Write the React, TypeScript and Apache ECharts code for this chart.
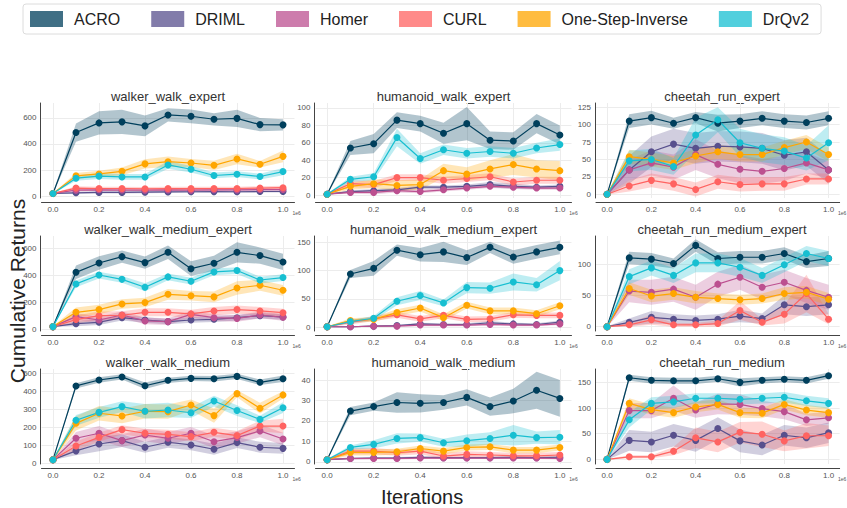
import { useEffect, useRef } from "react";
import * as echarts from "echarts";

// ---------- data ----------
const ITER = [0, 0.1, 0.2, 0.3, 0.4, 0.5, 0.6, 0.7, 0.8, 0.9, 1.0];
const METHODS = ["ACRO", "DRIML", "Homer", "CURL", "One-Step-Inverse", "DrQv2"];
const TASKS = [
  "walker_walk_expert", "humanoid_walk_expert", "cheetah_run_expert",
  "walker_walk_medium_expert", "humanoid_walk_medium_expert", "cheetah_run_medium_expert",
  "walker_walk_medium", "humanoid_walk_medium", "cheetah_run_medium",
];
const Y_MIN = [-15, -3.4, -5.3, -12.6, -6.5, -6.9, -4, -1.1, -9];
const Y_MAX = [715, 105.7, 131, 691, 161, 145, 524, 45.4, 176];
const Y_STEP = [200, 20, 25, 200, 50, 50, 100, 10, 50];
const X_TICK_LABEL = "1e6";

// order of rows: ACRO, DRIML, Homer, CURL, One-Step-Inverse, DrQv2
const walkerWalkExpertMean = [
  [20, 488, 562, 570, 539, 623, 613, 590, 597, 549, 547],
  [20, 25, 28, 28, 30, 32, 33, 34, 33, 35, 35],
  [20, 45, 48, 46, 45, 47, 45, 48, 47, 50, 50],
  [20, 61, 58, 58, 56, 58, 57, 58, 58, 61, 64],
  [20, 155, 170, 190, 247, 264, 254, 236, 285, 244, 305],
  [20, 137, 153, 147, 147, 239, 206, 158, 168, 150, 188],
];
const walkerWalkExpertSpread = [
  [3, 70, 89, 93, 79, 51, 53, 47, 66, 51, 43],
  [2, 8, 8, 8, 8, 8, 8, 8, 8, 8, 8],
  [2, 10, 10, 10, 10, 10, 10, 10, 10, 10, 10],
  [2, 15, 14, 14, 14, 14, 14, 14, 14, 14, 15],
  [2, 22, 25, 30, 35, 40, 30, 35, 40, 25, 45],
  [2, 20, 22, 22, 22, 30, 25, 22, 22, 22, 28],
];
const humanoidWalkExpertMean = [
  [1, 54, 59, 86, 82, 71, 82, 63, 62, 82, 69],
  [1, 4, 5, 6, 9, 9, 10, 12, 10, 9, 10],
  [1, 3, 3, 5, 4, 6, 8, 10, 9, 8, 8],
  [1, 13, 12, 20, 20, 17, 19, 21, 15, 17, 17],
  [1, 10, 13, 11, 12, 28, 24, 30, 35, 30, 28],
  [1, 18, 21, 66, 42, 52, 48, 50, 48, 54, 58],
];
const humanoidWalkExpertSpread = [
  [0.5, 8, 11, 9, 9, 12, 19, 10, 10, 11, 11],
  [0.5, 1.5, 2, 2, 2, 2, 2, 3, 3, 2, 2],
  [0.5, 1.5, 2, 2, 2, 2, 2, 2, 2, 2, 2],
  [0.5, 4, 4, 4, 4, 4, 4, 4, 4, 4, 4],
  [0.5, 4, 5, 6, 6, 8, 8, 10, 12, 10, 11],
  [0.5, 3, 4, 10, 6, 6, 6, 6, 6, 6, 7],
];
const cheetahRunExpertMean = [
  [0, 105, 110, 102, 110, 102, 105, 109, 105, 103, 109],
  [0, 35, 61, 72, 66, 69, 68, 66, 56, 61, 35],
  [0, 35, 45, 39, 57, 43, 36, 33, 37, 45, 35],
  [0, 12, 20, 15, 7, 18, 14, 15, 15, 22, 22],
  [0, 54, 50, 45, 55, 61, 57, 57, 67, 75, 57],
  [0, 48, 50, 40, 85, 107, 74, 66, 62, 52, 74],
];
const cheetahRunExpertSpread = [
  [0.5, 10, 10, 8, 8, 12, 10, 10, 10, 10, 10],
  [0.5, 20, 22, 22, 22, 22, 22, 22, 22, 20, 20],
  [0.5, 15, 18, 18, 22, 20, 20, 18, 18, 15, 12],
  [0.5, 8, 10, 10, 10, 10, 10, 10, 10, 8, 8],
  [0.5, 10, 10, 10, 10, 10, 10, 10, 10, 10, 10],
  [0.5, 15, 15, 12, 25, 18, 20, 20, 20, 18, 25],
];
const walkerWalkMediumExpertMean = [
  [20, 422, 491, 538, 494, 570, 449, 489, 570, 546, 499],
  [20, 42, 52, 86, 69, 57, 69, 74, 86, 101, 91],
  [20, 94, 69, 106, 62, 57, 111, 86, 81, 106, 89],
  [20, 72, 101, 104, 126, 126, 114, 136, 146, 136, 123],
  [20, 126, 146, 188, 198, 259, 249, 240, 306, 326, 289],
  [20, 336, 402, 370, 311, 388, 356, 425, 435, 365, 383],
];
const walkerWalkMediumExpertSpread = [
  [3, 50, 50, 45, 45, 50, 55, 55, 75, 60, 60],
  [2, 20, 20, 20, 20, 20, 20, 20, 20, 20, 20],
  [2, 25, 25, 25, 25, 25, 25, 25, 25, 25, 25],
  [2, 30, 30, 30, 30, 30, 30, 30, 30, 30, 30],
  [2, 35, 35, 35, 35, 40, 35, 40, 50, 40, 40],
  [2, 25, 25, 25, 30, 25, 25, 25, 25, 25, 25],
];
const humanoidWalkMediumExpertMean = [
  [1, 94, 104, 136, 128, 133, 123, 141, 124, 133, 141],
  [1, 1, 2, 3, 6, 5, 5, 8, 6, 5, 9],
  [1, 1, 2, 2, 4, 4, 4, 5, 4, 4, 6],
  [1, 9, 15, 22, 15, 21, 14, 15, 22, 21, 21],
  [1, 12, 14, 26, 34, 17, 39, 29, 29, 24, 38],
  [1, 10, 16, 46, 56, 43, 70, 69, 80, 75, 100],
];
const humanoidWalkMediumExpertSpread = [
  [0.5, 7, 13, 10, 12, 18, 13, 10, 12, 12, 12],
  [0.5, 1, 1, 1, 2, 2, 2, 3, 2, 2, 3],
  [0.5, 1, 1, 1, 2, 2, 2, 2, 2, 2, 2],
  [0.5, 4, 4, 5, 5, 5, 5, 5, 5, 5, 5],
  [0.5, 4, 4, 6, 6, 6, 6, 6, 6, 6, 6],
  [0.5, 3, 4, 7, 8, 6, 10, 10, 15, 12, 17],
];
const cheetahRunMediumExpertMean = [
  [0, 110, 108, 101, 130, 109, 111, 111, 117, 104, 109],
  [0, 7, 15, 12, 10, 12, 17, 13, 35, 32, 35],
  [0, 57, 55, 60, 47, 68, 79, 63, 71, 58, 47],
  [0, 3, 11, 3, 3, 5, 26, 7, 20, 53, 12],
  [0, 61, 49, 53, 47, 45, 43, 45, 53, 55, 44],
  [0, 80, 94, 82, 102, 102, 95, 82, 99, 117, 109],
];
const cheetahRunMediumExpertSpread = [
  [0.5, 10, 10, 8, 10, 10, 10, 10, 10, 10, 12],
  [0.5, 6, 10, 8, 8, 8, 10, 8, 15, 15, 15],
  [0.5, 18, 20, 20, 20, 20, 20, 20, 20, 20, 20],
  [0.5, 3, 8, 3, 3, 5, 15, 5, 15, 30, 8],
  [0.5, 10, 10, 10, 10, 8, 8, 8, 10, 10, 10],
  [0.5, 12, 12, 12, 15, 15, 15, 12, 12, 12, 12],
];
const walkerWalkMediumMean = [
  [20, 430, 463, 480, 431, 461, 472, 470, 483, 450, 470],
  [20, 69, 107, 126, 89, 117, 102, 78, 115, 89, 83],
  [20, 139, 167, 126, 157, 139, 167, 120, 143, 180, 135],
  [20, 96, 144, 187, 167, 161, 148, 172, 154, 207, 207],
  [20, 222, 278, 263, 289, 287, 324, 265, 387, 306, 380],
  [20, 239, 283, 315, 289, 296, 281, 346, 293, 244, 309],
];
const walkerWalkMediumSpread = [
  [3, 15, 15, 15, 18, 15, 15, 15, 15, 15, 18],
  [2, 25, 40, 35, 30, 30, 30, 30, 30, 30, 30],
  [2, 35, 40, 35, 35, 35, 35, 35, 35, 35, 35],
  [2, 25, 25, 25, 25, 25, 25, 25, 25, 30, 40],
  [2, 40, 40, 40, 40, 40, 30, 40, 20, 30, 20],
  [2, 30, 30, 30, 40, 40, 30, 30, 30, 20, 30],
];
const humanoidWalkMediumMean = [
  [1, 24.8, 27, 29, 28.6, 29, 31.5, 27, 29.7, 35, 31],
  [1, 1.6, 1.8, 1.8, 2.2, 2, 2, 2, 2.2, 2, 2.2],
  [1, 1.6, 1.6, 1.6, 1.8, 1.8, 1.8, 1.8, 1.8, 1.8, 1.6],
  [1, 5.2, 5.2, 4.4, 5.2, 2.8, 3.6, 3.3, 2.9, 2.9, 3.3],
  [1, 4.6, 4.6, 4.9, 6.5, 5.2, 7, 7.3, 5.7, 5.7, 7],
  [1, 7, 8.5, 11.4, 11.8, 9.3, 10.3, 11.4, 13, 11.8, 12],
];
const humanoidWalkMediumSpread = [
  [0.3, 2, 2, 5, 4.5, 3.5, 4, 4.5, 6, 9, 9],
  [0.3, 0.5, 0.5, 0.5, 0.5, 0.5, 0.5, 0.5, 0.5, 0.5, 0.5],
  [0.3, 0.5, 0.5, 0.5, 0.5, 0.5, 0.5, 0.5, 0.5, 0.5, 0.5],
  [0.3, 1.5, 1.5, 1.5, 1.5, 1.5, 1.5, 1.5, 1.5, 1.5, 1.5],
  [0.3, 1.5, 1.5, 1.5, 1.5, 1.5, 1.5, 1.5, 1.5, 1.5, 1.5],
  [0.3, 1, 2, 2.5, 2, 2, 3, 3, 5, 3, 3.5],
];
const cheetahRunMediumMean = [
  [0, 159, 154, 153, 153, 157, 150, 154, 156, 154, 163],
  [0, 37, 34, 47, 37, 60, 36, 28, 47, 42, 52],
  [0, 95, 95, 119, 96, 108, 107, 99, 93, 77, 81],
  [0, 5, 5, 16, 42, 34, 53, 49, 36, 46, 46],
  [0, 109, 97, 91, 102, 107, 91, 90, 107, 96, 91],
  [0, 77, 109, 112, 119, 119, 117, 119, 121, 114, 109],
];
const cheetahRunMediumSpread = [
  [0.5, 6, 6, 6, 6, 6, 8, 6, 6, 6, 6],
  [0.5, 20, 20, 22, 22, 22, 22, 20, 20, 20, 20],
  [0.5, 15, 15, 25, 15, 20, 20, 15, 15, 12, 12],
  [0.5, 3, 3, 8, 20, 20, 20, 25, 20, 25, 20],
  [0.5, 10, 10, 10, 10, 10, 10, 10, 10, 10, 10],
  [0.5, 15, 12, 12, 10, 10, 10, 10, 10, 10, 10],
];

const MEANS = [
  walkerWalkExpertMean, humanoidWalkExpertMean, cheetahRunExpertMean,
  walkerWalkMediumExpertMean, humanoidWalkMediumExpertMean, cheetahRunMediumExpertMean,
  walkerWalkMediumMean, humanoidWalkMediumMean, cheetahRunMediumMean,
];
const SPREADS = [
  walkerWalkExpertSpread, humanoidWalkExpertSpread, cheetahRunExpertSpread,
  walkerWalkMediumExpertSpread, humanoidWalkMediumExpertSpread, cheetahRunMediumExpertSpread,
  walkerWalkMediumSpread, humanoidWalkMediumSpread, cheetahRunMediumSpread,
];

// ---------- style ----------
const COLORS = ["#003f5c", "#58508d", "#bc5090", "#ff6361", "#ffa600", "#17bfd1"];
const BAND_FILL = [
  "rgba(0,63,92,0.3)", "rgba(88,80,141,0.28)", "rgba(188,80,144,0.28)",
  "rgba(255,99,97,0.28)", "rgba(255,166,0,0.28)", "rgba(23,191,209,0.28)",
];
const SWATCH = [
  "rgba(0,63,92,0.75)", "rgba(88,80,141,0.75)", "rgba(188,80,144,0.75)",
  "rgba(255,99,97,0.75)", "rgba(255,166,0,0.75)", "rgba(23,191,209,0.75)",
];
const FONT = "'Liberation Sans', Arial, Helvetica, sans-serif";
const COL_LEFT = [41.5, 315.5, 596];
const COL_WIDTH = [253, 256, 252];
const ROW_TOP = [103, 236, 369];
const GRID_H = 95;

function buildOption() {
  const grid: any[] = [];
  const xAxis: any[] = [];
  const yAxis: any[] = [];
  const series: any[] = [];
  const graphic: any[] = [];

  TASKS.forEach((task, p) => {
    const r = Math.floor(p / 3);
    const c = p % 3;
    grid.push({ left: COL_LEFT[c], top: ROW_TOP[r], width: COL_WIDTH[c], height: GRID_H });
    xAxis.push({
      gridIndex: p,
      type: "value",
      min: -0.05,
      max: 1.05,
      minInterval: 0.2,
      maxInterval: 0.2,
      offset: 4,
      axisLine: { show: true, onZero: false, lineStyle: { color: "#444", width: 1 } },
      axisTick: { show: false },
      axisLabel: {
        fontSize: 8, color: "#555", margin: 3, fontFamily: FONT,
        showMinLabel: false, showMaxLabel: false,
        formatter: (v: number) => v.toFixed(1),
      },
      splitLine: { show: true, showMinLine: false, showMaxLine: false, lineStyle: { color: "#ececec", width: 1 } },
      name: X_TICK_LABEL,
      nameLocation: "end",
      nameGap: c === 2 ? -14 : -6,
      nameTextStyle: { fontSize: 5, color: "#555", verticalAlign: "top", padding: [8, 0, 0, 0], fontFamily: FONT },
    });
    yAxis.push({
      gridIndex: p,
      type: "value",
      min: Y_MIN[p],
      max: Y_MAX[p],
      minInterval: Y_STEP[p],
      maxInterval: Y_STEP[p],
      offset: 1,
      axisLine: { show: true, onZero: false, lineStyle: { color: "#444", width: 1 } },
      axisTick: { show: false },
      axisLabel: {
        fontSize: 8, color: "#555", margin: 4, fontFamily: FONT,
        showMinLabel: false, showMaxLabel: false,
      },
      splitLine: { show: true, showMinLine: false, showMaxLine: false, lineStyle: { color: "#ececec", width: 1 } },
    });

    graphic.push({
      type: "text",
      x: COL_LEFT[c] + COL_WIDTH[c] / 2,
      y: ROW_TOP[r] - 7,
      silent: true,
      style: {
        text: task, fill: "#333", fontSize: 13, fontFamily: FONT,
        align: "center", verticalAlign: "middle",
      },
    });

    METHODS.forEach((m, k) => {
      const mean = MEANS[p][k];
      const sd = SPREADS[p][k];
      const bandData = ITER.map((x, i) => [x, mean[i] - sd[i], mean[i] + sd[i]]);
      series.push({
        type: "custom",
        name: `${m}-band-${p}`,
        xAxisIndex: p,
        yAxisIndex: p,
        data: bandData,
        encode: { x: 0, y: [1, 2] },
        silent: true,
        z: 1,
        renderItem: (params: any, api: any) => {
          if (params.dataIndex !== 0) return null;
          const lower = bandData.map((d) => api.coord([d[0], d[1]]));
          const upper = bandData.map((d) => api.coord([d[0], d[2]])).reverse();
          return {
            type: "polygon",
            shape: { points: lower.concat(upper) },
            style: { fill: BAND_FILL[k], stroke: "none" },
            silent: true,
          };
        },
      });
    });
    METHODS.forEach((m, k) => {
      const mean = MEANS[p][k];
      series.push({
        type: "line",
        name: m,
        xAxisIndex: p,
        yAxisIndex: p,
        data: ITER.map((x, i) => [x, mean[i]]),
        symbol: "circle",
        symbolSize: 7,
        lineStyle: { color: COLORS[k], width: 1.2 },
        itemStyle: { color: COLORS[k], borderWidth: 0 },
        clip: false,
        z: 3,
        emphasis: { disabled: true },
      });
    });
  });

  graphic.push({
    type: "text",
    x: 17, y: 291, rotation: Math.PI / 2, silent: true,
    style: { text: "Cumulative Returns", fill: "#222", fontSize: 21, fontFamily: FONT, align: "center", verticalAlign: "middle" },
  });
  graphic.push({
    type: "text",
    x: 422, y: 497, silent: true,
    style: { text: "Iterations", fill: "#222", fontSize: 20, fontFamily: FONT, align: "center", verticalAlign: "middle" },
  });

  return {
    animation: false,
    backgroundColor: "#fff",
    textStyle: { fontFamily: FONT },
    tooltip: { show: false },
    legend: {
      left: 23,
      top: 4,
      padding: [7, 12, 7, 7],
      itemWidth: 33,
      itemHeight: 16,
      itemGap: 31,
      icon: "rect",
      selectedMode: false,
      borderColor: "#dcdcdc",
      borderWidth: 1,
      borderRadius: 3,
      backgroundColor: "#fff",
      itemStyle: { borderWidth: 0 },
      textStyle: { fontSize: 16, color: "#222", fontFamily: FONT, padding: [0, 0, 0, 6] },
      data: METHODS.map((n, i) => ({ name: n, itemStyle: { color: SWATCH[i], borderWidth: 0 } })),
    },
    grid,
    xAxis,
    yAxis,
    series,
    graphic,
  };
}

export default function App() {
  const ref = useRef<HTMLDivElement>(null);
  useEffect(() => {
    document.body.style.margin = "0";
    document.documentElement.style.margin = "0";
    if (!ref.current) return;
    const chart = echarts.init(ref.current, undefined, { renderer: "svg" });
    chart.setOption(buildOption() as any);
    return () => chart.dispose();
  }, []);
  return <div ref={ref} style={{ width: 847, height: 508, background: "#fff" }} />;
}
